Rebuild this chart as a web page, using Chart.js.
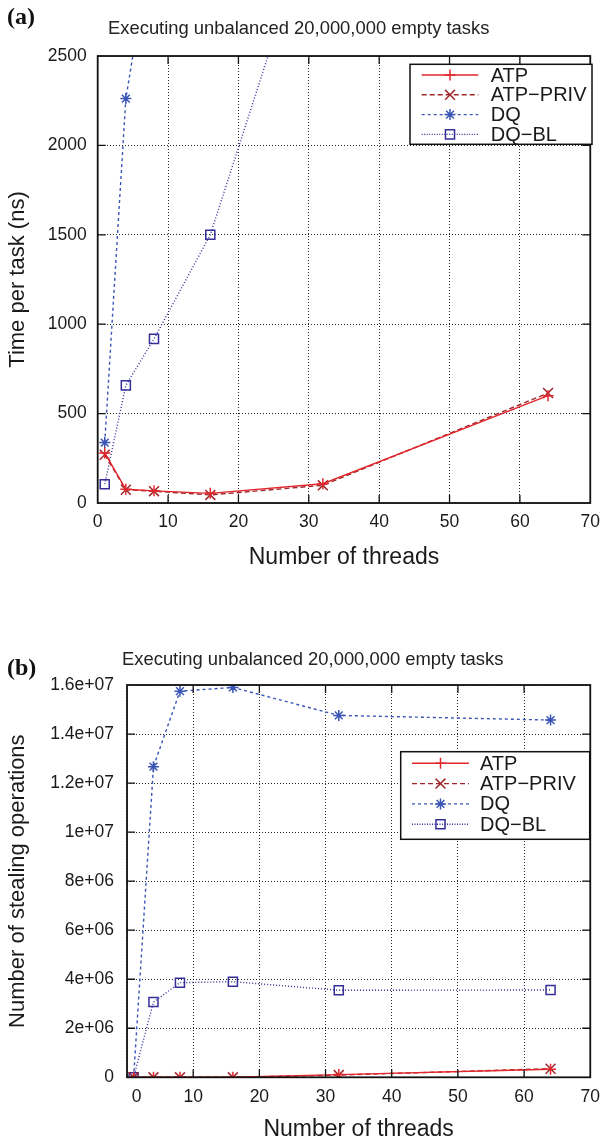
<!DOCTYPE html>
<html>
<head>
<meta charset="utf-8">
<script src="https://cdn.jsdelivr.net/npm/chart.js@4.4.1/dist/chart.umd.min.js"></script>
<style>
  html, body { margin: 0; padding: 0; background: #fff; }
  body { width: 609px; height: 1145px; position: relative; overflow: hidden;
         font-family: "Liberation Sans", Arial, Helvetica, sans-serif; }
  .panel { position: absolute; left: 0; width: 609px; }
  #panelA { top: 0; height: 575px; }
  #panelB { top: 575px; height: 570px; }
  .tag { position: absolute; left: 7px; font-family: "Liberation Serif", "Times New Roman", serif;
         font-weight: bold; font-size: 24px; line-height: 24px; color: #111; }
  .ttl { position: absolute; font-size: 18.4px; line-height: 18px; color: #222; white-space: nowrap; }
</style>
</head>
<body>
<div class="panel" id="panelA"><canvas id="chartA" width="609" height="575"></canvas></div>
<div class="panel" id="panelB"><canvas id="chartB" width="609" height="570"></canvas></div>
<div class="tag" style="top:4px">(a)</div>
<div class="ttl" style="left:108px;top:19px">Executing unbalanced 20,000,000 empty tasks</div>
<div class="tag" style="top:655px">(b)</div>
<div class="ttl" style="left:122px;top:650px">Executing unbalanced 20,000,000 empty tasks</div>
<script>
// Thread counts used in every run
const threads = [1, 4, 8, 16, 32, 64];

// (a) time per task, ns
const atpTime     = [280, 77, 68, 54, 108, 600];
const atpPrivTime = [270, 74, 66, 45, 99, 615];
const dqTime      = [338, 2262, 3220, 4900, 7600, 12000];
const dqblTime    = [105, 658, 918, 1500, 3450, 6900];

// (b) number of stealing operations
const atpSteal     = [0, 0, 0, 0, 110000, 330000];
const atpPrivSteal = [0, 0, 0, 0, 90000, 350000];
const dqSteal      = [0, 12670000, 15750000, 15900000, 14760000, 14570000];
const dqblSteal    = [0, 3070000, 3860000, 3900000, 3550000, 3560000];

// Axis ticks
const threadTicks = [0, 10, 20, 30, 40, 50, 60, 70];
const threadTickLabels = ['0', '10', '20', '30', '40', '50', '60', '70'];
const timeTicks = [0, 500, 1000, 1500, 2000, 2500];
const timeTickLabels = ['0', '500', '1000', '1500', '2000', '2500'];
const stealTicks = [0, 2e6, 4e6, 6e6, 8e6, 1e7, 1.2e7, 1.4e7, 1.6e7];
const stealTickLabels = ['0', '2e+06', '4e+06', '6e+06', '8e+06', '1e+07', '1.2e+07', '1.4e+07', '1.6e+07'];

// Series names
const seriesNames = ['ATP', 'ATP\u2212PRIV', 'DQ', 'DQ\u2212BL'];

const FONT = '"Liberation Sans", Arial, Helvetica, sans-serif';

// Line and marker look for each series
const seriesLook = [
  { color: '#e3262b', dash: [],     pointStyle: 'cross',    radius: 5.5, legendDash: [] },
  { color: '#a0262b', dash: [5, 3], pointStyle: 'crossRot', radius: 7,   legendDash: [5, 3] },
  { color: '#3a55b4', dash: [3, 3], pointStyle: 'star',     radius: 5.5, legendDash: [3, 3] },
  { color: '#352d98', dash: [1, 2], pointStyle: 'rect',     radius: 6.4, legendDash: [1, 1.5] }
];

function makeDatasets(seriesValues) {
  return seriesValues.map((vals, i) => {
    const s = seriesLook[i];
    return {
      label: seriesNames[i],
      data: threads.map((t, k) => ({ x: t, y: vals[k] })),
      borderColor: s.color,
      backgroundColor: 'rgba(0,0,0,0)',
      borderWidth: 1.4,
      borderDash: s.dash,
      pointStyle: s.pointStyle,
      pointRadius: s.radius,
      pointBorderWidth: 1.5,
      pointBorderColor: s.color,
      pointBackgroundColor: 'rgba(0,0,0,0)',
      legendDash: s.legendDash,
      tension: 0,
      fill: false
    };
  });
}

// Plot frame with gnuplot-style inward tick marks on all four sides
const framePlugin = {
  id: 'frame',
  afterDatasetsDraw(chart, args, o) {
    const { ctx, chartArea: a } = chart;
    const xs = chart.scales.x, ys = chart.scales.y;
    const L = o.tickLen;
    ctx.save();
    ctx.setLineDash([]);
    ctx.strokeStyle = '#111';
    ctx.lineWidth = 1.3;
    ctx.beginPath();
    xs.ticks.forEach(t => {
      const p = xs.getPixelForValue(t.value);
      if (p <= a.left + 1 || p >= a.right - 1) return;
      ctx.moveTo(p, a.bottom); ctx.lineTo(p, a.bottom - L);
      ctx.moveTo(p, a.top); ctx.lineTo(p, a.top + L);
    });
    ys.ticks.forEach(t => {
      const p = ys.getPixelForValue(t.value);
      if (p <= a.top + 1 || p >= a.bottom - 1) return;
      ctx.moveTo(a.left, p); ctx.lineTo(a.left + L, p);
      ctx.moveTo(a.right, p); ctx.lineTo(a.right - L, p);
    });
    ctx.stroke();
    ctx.lineWidth = 1.8;
    ctx.strokeRect(a.left, a.top, a.right - a.left, a.bottom - a.top);
    ctx.restore();
  }
};

// Boxed key: line sample, marker and name for each series
const keyPlugin = {
  id: 'key',
  afterDraw(chart, args, o) {
    const ctx = chart.ctx;
    ctx.save();
    ctx.fillStyle = '#fff';
    ctx.fillRect(o.x, o.y, o.w, o.h);
    ctx.setLineDash([]);
    ctx.strokeStyle = '#111';
    ctx.lineWidth = 1.5;
    ctx.strokeRect(o.x, o.y, o.w, o.h);
    chart.data.datasets.forEach((ds, i) => {
      const cy = o.y + o.rowTop + i * o.rowGap;
      const x0 = o.x + o.lineStart, x1 = o.x + o.lineEnd;
      ctx.strokeStyle = ds.borderColor;
      ctx.lineWidth = ds.borderWidth;
      ctx.setLineDash(ds.legendDash || []);
      ctx.beginPath();
      ctx.moveTo(x0, cy); ctx.lineTo(x1, cy);
      ctx.stroke();
      ctx.setLineDash([]);
      ctx.fillStyle = 'rgba(0,0,0,0)';
      ctx.lineWidth = ds.pointBorderWidth;
      Chart.helpers.drawPoint(ctx, {
        pointStyle: ds.pointStyle, radius: ds.pointRadius,
        borderWidth: ds.pointBorderWidth, rotation: 0
      }, (x0 + x1) / 2, cy);
      ctx.fillStyle = '#1a1a1a';
      ctx.font = o.fontSize + 'px ' + FONT;
      ctx.textBaseline = 'middle';
      ctx.textAlign = 'left';
      ctx.fillText(ds.label, o.x + o.textStart, cy + 1);
    });
    ctx.restore();
  }
};

function makeChart(id, cfg) {
  return new Chart(document.getElementById(id), {
    type: 'line',
    data: { datasets: makeDatasets(cfg.series) },
    plugins: [framePlugin, keyPlugin],
    options: {
      responsive: false,
      animation: false,
      devicePixelRatio: 1,
      layout: { padding: cfg.padding },
      plugins: {
        legend: { display: false },
        tooltip: { enabled: false },
        title: { display: false },
        frame: { tickLen: 8 },
        key: cfg.key
      },
      scales: {
        x: {
          type: 'linear',
          min: 0, max: 70,
          afterBuildTicks: s => { s.ticks = threadTicks.map(v => ({ value: v })); },
          afterFit: s => { s.height = cfg.xHeight; },
          ticks: {
            color: '#1a1a1a',
            font: { family: FONT, size: 17.5 },
            padding: cfg.xTickPad,
            maxRotation: 0,
            autoSkip: false,
            callback: (v, i) => (cfg.zeroShift && v === 0 ? '\u00a0\u00a0\u00a0\u00a0' : '') + threadTickLabels[i]
          },
          grid: { color: 'rgba(0,0,0,0.85)', lineWidth: 1, drawTicks: false },
          border: { display: false, dash: [1, 2] },
          title: {
            display: true, text: 'Number of threads', color: '#1a1a1a',
            font: { family: FONT, size: 23 }, padding: { top: 0, bottom: cfg.xTitlePad }
          }
        },
        y: {
          type: 'linear',
          min: cfg.yMin, max: cfg.yMax,
          afterBuildTicks: s => { s.ticks = cfg.yTicks.map(v => ({ value: v })); },
          afterFit: s => { s.width = cfg.yWidth; },
          ticks: {
            color: '#1a1a1a',
            font: { family: FONT, size: 17.5 },
            padding: cfg.yTickPad,
            autoSkip: false,
            callback: (v, i) => cfg.yLabels[i]
          },
          grid: { color: 'rgba(0,0,0,0.85)', lineWidth: 1, drawTicks: false },
          border: { display: false, dash: [1, 2] },
          title: {
            display: true, text: cfg.yTitle, color: '#1a1a1a',
            font: { family: FONT, size: 22 }, padding: { top: cfg.yTitlePad, bottom: 0 }
          }
        }
      }
    }
  });
}

makeChart('chartA', {
  series: [atpTime, atpPrivTime, dqTime, dqblTime],
  padding: { left: 0, right: 12, top: 56, bottom: 0 },
  xHeight: 72, yWidth: 97.7,
  xTickPad: 9, yTickPad: 11,
  xTitlePad: 4, yTitlePad: 5,
  yMin: 0, yMax: 2500, yTicks: timeTicks, yLabels: timeTickLabels,
  yTitle: 'Time per task (ns)',
  zeroShift: false,
  key: { x: 410, y: 64.3, w: 182, h: 80, rowTop: 10.7, rowGap: 19.8,
         lineStart: 11.7, lineEnd: 68.3, textStart: 80.7, fontSize: 20 }
});

makeChart('chartB', {
  series: [atpSteal, atpPrivSteal, dqSteal, dqblSteal],
  padding: { left: 0, right: 13, top: 110, bottom: 0 },
  xHeight: 67.7, yWidth: 127,
  xTickPad: 9, yTickPad: 13,
  xTitlePad: 2, yTitlePad: 5,
  yMin: 0, yMax: 1.6e7, yTicks: stealTicks, yLabels: stealTickLabels,
  yTitle: 'Number of stealing operations',
  zeroShift: true,
  key: { x: 400.7, y: 176.7, w: 189, h: 87.6, rowTop: 11.6, rowGap: 20.3,
         lineStart: 11.3, lineEnd: 68.3, textStart: 79.3, fontSize: 20 }
});
</script>
</body>
</html>
